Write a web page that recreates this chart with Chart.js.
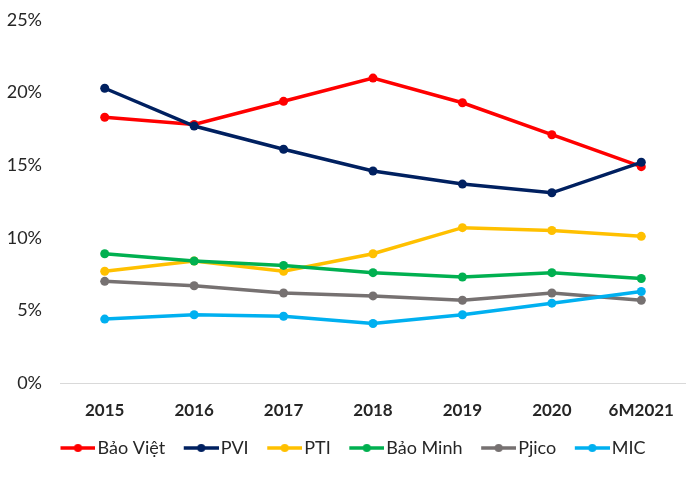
<!DOCTYPE html>
<html>
<head>
<meta charset="utf-8">
<script src="https://cdn.jsdelivr.net/npm/chart.js@4.4.1/dist/chart.umd.min.js"></script>
<style>
  body { margin: 0; background: #fff; }
  #wrap { width: 694px; height: 477px; }
</style>
</head>
<body>
<div id="wrap"><canvas id="myChart"></canvas></div>
<script>
const years = ['2015', '2016', '2017', '2018', '2019', '2020', '6M2021'];
const companies = ['Bảo Việt', 'PVI', 'PTI', 'Bảo Minh', 'Pjico', 'MIC'];
const baoViet = [18.3, 17.8, 19.4, 21.0, 19.3, 17.1, 14.9];
const pvi = [20.3, 17.7, 16.1, 14.6, 13.7, 13.1, 15.2];
const pti = [7.7, 8.4, 7.7, 8.9, 10.7, 10.5, 10.1];
const baoMinh = [8.9, 8.4, 8.1, 7.6, 7.3, 7.6, 7.2];
const pjico = [7.0, 6.7, 6.2, 6.0, 5.7, 6.2, 5.7];
const mic = [4.4, 4.7, 4.6, 4.1, 4.7, 5.5, 6.3];
const yTicks = [0, 5, 10, 15, 20, 25];

const colors = ['#FF0000', '#002060', '#FFC000', '#00B050', '#767171', '#00B0F0'];
const values = [baoViet, pvi, pti, baoMinh, pjico, mic];

// line + dot picture for the legend; the mark sits on the right side
// of the image so it ends just before the label text
function legendMark(color) {
  const c = document.createElement('canvas');
  c.width = 42; c.height = 10;
  const g = c.getContext('2d');
  g.strokeStyle = color;
  g.lineWidth = 3.5;
  g.beginPath(); g.moveTo(7, 5); g.lineTo(42, 5); g.stroke();
  g.fillStyle = color;
  g.beginPath(); g.arc(24.5, 5, 4, 0, Math.PI * 2); g.fill();
  return c;
}

const datasets = companies.map((name, i) => ({
  label: name,
  data: values[i],
  borderColor: colors[i],
  backgroundColor: colors[i],
  borderWidth: 3.5,
  pointRadius: 4.5,
  pointBorderWidth: 0,
  tension: 0,
  order: companies.length - i  // later series on top, like the original
}));

const textColor = '#262626';

// nudge the legend row a little to the right
const legendNudge = {
  id: 'legendNudge',
  afterLayout(chart) {
    const lg = chart.legend;
    if (lg) { lg.left += 10; lg.right += 10; }
  }
};

new Chart(document.getElementById('myChart'), {
  type: 'line',
  data: { labels: years, datasets: datasets },
  plugins: [legendNudge],
  options: {
    responsive: true,
    maintainAspectRatio: false,
    animation: false,
    events: [],
    layout: { padding: { top: 20, right: 8, bottom: 10, left: 0 } },
    plugins: {
      tooltip: { enabled: false },
      legend: {
        position: 'bottom',
        labels: {
          color: textColor,
          font: { family: 'Lato', size: 18 },
          usePointStyle: true,
          pointStyleWidth: 28,
          padding: 18.6,
          generateLabels: chart => chart.data.datasets.map((ds, i) => ({
            text: ds.label,
            fillStyle: ds.borderColor,
            strokeStyle: ds.borderColor,
            lineWidth: 0,
            pointStyle: legendMark(ds.borderColor),
            hidden: false,
            datasetIndex: i,
            fontColor: textColor
          }))
        }
      }
    },
    scales: {
      x: {
        offset: true,
        grid: { display: false, drawTicks: false },
        border: { display: false },
        ticks: {
          color: textColor,
          font: { family: 'Lato', size: 17, weight: 'bold' },
          padding: 17,
          maxRotation: 0
        },
        afterFit: scale => { scale.height = 37.4; }
      },
      y: {
        min: 0,
        max: 25,
        afterBuildTicks: scale => { scale.ticks = yTicks.map(v => ({ value: v })); },
        grid: {
          drawTicks: false,
          color: ctx => ctx.tick && ctx.tick.value === 0 ? '#D9D9D9' : 'rgba(0,0,0,0)',
          lineWidth: 1
        },
        border: { display: false },
        ticks: {
          color: textColor,
          font: { family: 'Lato', size: 18 },
          padding: 18,
          callback: v => v + '%'
        },
        afterFit: scale => {
          scale.width = 60;
          scale.paddingTop = 0;
          scale.paddingBottom = 0;
        }
      }
    }
  }
});
</script>
</body>
</html>
